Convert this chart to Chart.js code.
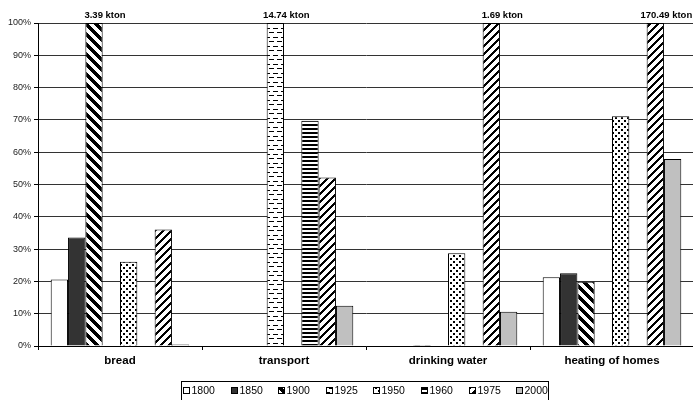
<!DOCTYPE html>
<html>
<head>
<meta charset="utf-8">
<script src="https://cdn.jsdelivr.net/npm/chart.js@4/dist/chart.umd.min.js"></script>
<style>
  html, body { margin: 0; padding: 0; background: #fff; overflow: hidden; }
  #wrap { position: relative; width: 700px; height: 400px; }
</style>
</head>
<body>
<div id="wrap"><canvas id="chart"></canvas></div>
<script>
// data (share of the maximum, %)
const categories = ['bread', 'transport', 'drinking water', 'heating of homes'];
const years = ['1800', '1850', '1900', '1925', '1950', '1960', '1975', '2000'];
const share1800 = [20.6, 0, 0, 21.3];
const share1850 = [33.6, 0, 0, 22.5];
const share1900 = [100, 0, 0.3, 19.9];
const share1925 = [0, 100, 0, 0];
const share1950 = [26.1, 0, 28.7, 71.1];
const share1960 = [0, 69.7, 0, 0];
const share1975 = [36.1, 52.2, 100, 100];
const share2000 = [0.5, 12.5, 10.6, 57.9];
const maxLabels = ['3.39 kton', '14.74 kton', '1.69 kton', '170.49 kton'];
const yTicks = [0, 10, 20, 30, 40, 50, 60, 70, 80, 90, 100];

const FONT = "'Liberation Sans', Arial, sans-serif";

// small tiles for the Excel-like fill patterns
function makePattern(w, h, isBlack) {
    const c = document.createElement('canvas');
    c.width = w;
    c.height = h;
    const ctx = c.getContext('2d');
    const img = ctx.createImageData(w, h);
    for (let y = 0; y < h; y++) {
        for (let x = 0; x < w; x++) {
            const v = isBlack(x, y) ? 0 : 255;
            const k = (y * w + x) * 4;
            img.data[k] = img.data[k + 1] = img.data[k + 2] = v;
            img.data[k + 3] = 255;
        }
    }
    ctx.putImageData(img, 0, 0);
    return ctx.createPattern(c, 'repeat');
}

const fills = [
    '#ffffff',
    '#333333',
    makePattern(10, 10, (x, y) => ((x - y) % 10 + 10) % 10 < 5),   // wide "\"
    makePattern(8, 9, (x, y) => (y === 1 && x >= 1 && x <= 5) || (y === 5 && (x >= 5 || x <= 1))), // dashes
    makePattern(6, 6, (x, y) => (x < 2 && y < 2) || (x >= 3 && x < 5 && y >= 3 && y < 5)), // dots
    makePattern(4, 4, (x, y) => y < 2),                              // horizontal
    makePattern(8, 8, (x, y) => (x + y) % 8 < 3),                    // "/"
    '#c0c0c0',
];

const series = [share1800, share1850, share1900, share1925, share1950, share1960, share1975, share2000];

const datasets = series.map((vals, i) => ({
    label: years[i],
    data: vals,
    backgroundColor: fills[i],
    borderColor: '#000',
    borderWidth: 1,
    categoryPercentage: 0.845,
    barPercentage: 1.0,
}));

// "xx kton" over the tallest bar of each group
const maxLabelPlugin = {
    id: 'maxLabels',
    afterDatasetsDraw(chart) {
        const ctx = chart.ctx;
        ctx.save();
        ctx.font = 'bold 9.5px ' + FONT;
        ctx.fillStyle = '#000';
        ctx.textAlign = 'center';
        ctx.textBaseline = 'middle';
        categories.forEach((cat, i) => {
            let best = 0;
            series.forEach((vals, d) => { if (vals[i] > series[best][i]) best = d; });
            const bar = chart.getDatasetMeta(best).data[i];
            ctx.fillText(maxLabels[i], bar.x + 11, chart.chartArea.top - 8);
        });
        ctx.restore();
    },
};

// boxed legend at the bottom, partly cut off like the source
const legendPlugin = {
    id: 'boxLegend',
    afterDraw(chart) {
        const ctx = chart.ctx;
        const left = 181, top = 381, step = 47.6;
        ctx.save();
        ctx.strokeStyle = '#000';
        ctx.lineWidth = 1;
        ctx.strokeRect(left + 0.5, top + 0.5, 367, 30);
        ctx.font = '10.5px ' + FONT;
        ctx.textBaseline = 'middle';
        ctx.textAlign = 'left';
        years.forEach((yr, i) => {
            const bx = Math.round(left + 2 + i * step);
            ctx.fillStyle = fills[i];
            ctx.fillRect(bx, 387, 7, 7);
            ctx.strokeRect(bx + 0.5, 387.5, 6, 6);
            ctx.fillStyle = '#000';
            ctx.fillText(yr, bx + 8.5, 391);
        });
        ctx.restore();
    },
};

new Chart(document.getElementById('chart'), {
    type: 'bar',
    data: { labels: categories, datasets: datasets },
    plugins: [maxLabelPlugin, legendPlugin],
    options: {
        responsive: true,
        maintainAspectRatio: false,
        animation: false,
        layout: { padding: { left: 0, right: 6, top: 23, bottom: 32 } },
        plugins: {
            legend: { display: false },
            tooltip: { enabled: false },
        },
        scales: {
            x: {
                afterFit: (scale) => { scale.height = 22; },
                grid: {
                    offset: true,
                    drawOnChartArea: false,
                    tickLength: 4,
                    tickColor: '#000',
                },
                border: { color: '#000', width: 1 },
                ticks: {
                    padding: 4,
                    color: '#000',
                    font: { family: FONT, size: 11.5, weight: 'bold' },
                },
            },
            y: {
                min: 0,
                max: 100,
                afterFit: (scale) => { scale.width = 38; },
                afterBuildTicks: (scale) => { scale.ticks = yTicks.map((v) => ({ value: v })); },
                grid: {
                    color: '#333',
                    tickLength: 4,
                    tickColor: '#000',
                },
                border: { color: '#000', width: 1 },
                ticks: {
                    padding: 3,
                    color: '#222',
                    font: { family: FONT, size: 9 },
                    callback: (v) => v + '%',
                },
            },
        },
    },
});
</script>
</body>
</html>
